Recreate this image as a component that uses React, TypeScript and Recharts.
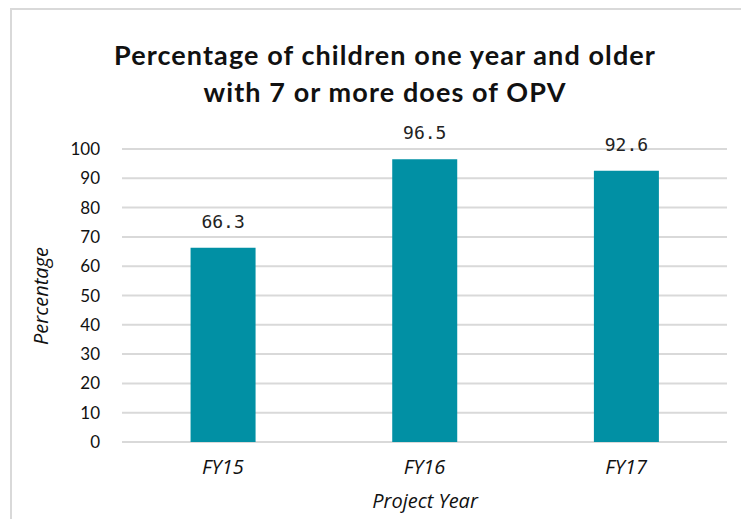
import { BarChart, Bar, XAxis, YAxis, CartesianGrid, LabelList } from 'recharts';

const years = ['FY15', 'FY16', 'FY17'];
const percentages = [66.3, 96.5, 92.6];
const yTicks = [0, 10, 20, 30, 40, 50, 60, 70, 80, 90, 100];

const data = years.map((year, i) => ({ year, value: percentages[i] }));

export default function App() {
  return (
    <div style={{ position: 'absolute', left: 0, top: 0, width: 741, height: 519, background: '#fff', overflow: 'hidden' }}>
      <div
        style={{
          position: 'absolute',
          left: 10,
          top: 8,
          right: -4,
          bottom: -4,
          borderLeft: '2px solid #d9d9d9',
          borderTop: '2px solid #d9d9d9',
        }}
      />
      <div
        style={{
          position: 'absolute',
          left: 0,
          width: 770,
          top: 36,
          textAlign: 'center',
          fontFamily: 'Lato, sans-serif',
          fontWeight: 700,
          fontSize: 27,
          letterSpacing: 1.1,
          lineHeight: '37px',
          color: '#111',
        }}
      >
        Percentage of children one year and older
        <br />
        with 7 or more does of OPV
      </div>
      <div
        style={{
          position: 'absolute',
          left: 40,
          top: 296,
          transform: 'translate(-50%, -50%) rotate(-90deg)',
          fontFamily: '"Open Sans", sans-serif',
          fontStyle: 'italic',
          fontSize: 20,
          color: '#111',
          whiteSpace: 'nowrap',
        }}
      >
        Percentage
      </div>
      <div
        style={{
          position: 'absolute',
          left: 425,
          top: 500,
          transform: 'translate(-50%, -50%)',
          fontFamily: '"Open Sans", sans-serif',
          fontStyle: 'italic',
          fontSize: 20,
          color: '#111',
          whiteSpace: 'nowrap',
        }}
      >
        Project Year
      </div>
      <div style={{ position: 'absolute', left: 0, top: 0 }}>
        <BarChart
          width={741}
          height={519}
          data={data}
          margin={{ top: 149, right: 14, bottom: 0, left: 0 }}
          barCategoryGap="34%"
        >
          <CartesianGrid vertical={false} stroke="#d9d9d9" strokeWidth={2} />
          <XAxis
            dataKey="year"
            axisLine={false}
            tickLine={false}
            height={77}
            tickMargin={12}
            tick={{ fontFamily: '"Open Sans", sans-serif', fontStyle: 'italic', fontSize: 20, fill: '#111' }}
          />
          <YAxis
            domain={[0, 100]}
            ticks={yTicks}
            interval={0}
            axisLine={false}
            tickLine={false}
            width={122}
            tickMargin={16}
            tick={{ fontFamily: 'Lato, sans-serif', fontSize: 17, fill: '#111' }}
          />
          <Bar dataKey="value" fill="#0190a4" isAnimationActive={false}>
            <LabelList
              dataKey="value"
              position="top"
              offset={20}
              style={{ fontFamily: '"DejaVu Sans Mono", monospace', fontSize: 18, fill: '#222' }}
            />
          </Bar>
        </BarChart>
      </div>
    </div>
  );
}
